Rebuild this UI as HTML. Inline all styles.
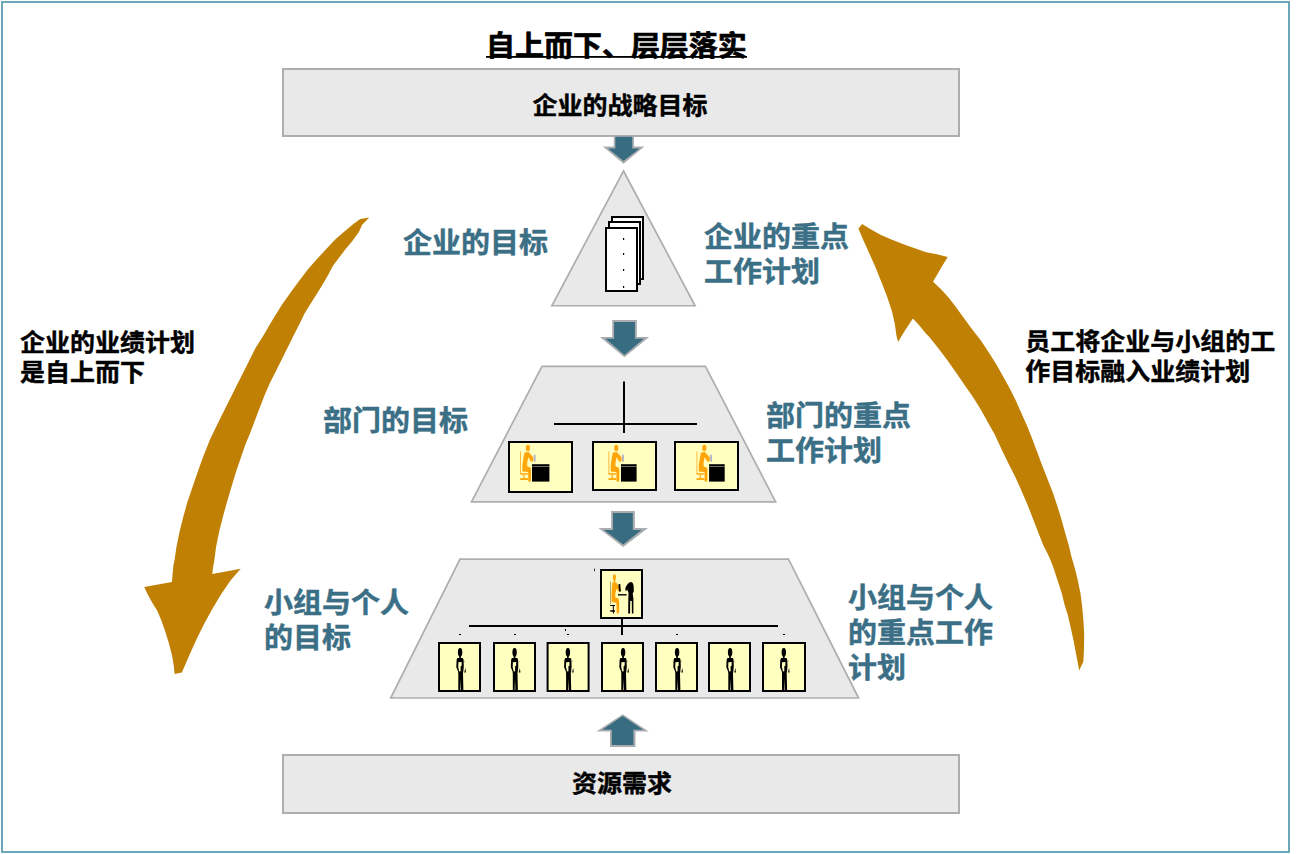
<!DOCTYPE html>
<html lang="zh-CN">
<head>
<meta charset="utf-8">
<title>自上而下、层层落实</title>
<style>
html,body{margin:0;padding:0;background:#fff;}
body{width:1302px;height:854px;overflow:hidden;font-family:"Liberation Sans","Noto Sans CJK SC",sans-serif;}
svg{display:block;}
text{font-family:"Liberation Sans","Noto Sans CJK SC",sans-serif;font-weight:bold;}
.blk{fill:#000;font-size:25px;stroke:#000;stroke-width:0.45px;stroke-linejoin:round;}
.blu{fill:#3b6f86;font-size:29px;stroke:#3b6f86;stroke-width:0.5px;stroke-linejoin:round;}
.ttl{fill:#000;font-size:29px;stroke:#000;stroke-width:0.7px;stroke-linejoin:round;}
.box{fill:#e9e9e9;stroke:#aeaeae;}
rect.box{stroke-width:2;}
.card{fill:#ffffc0;stroke:#000;stroke-width:2;}
.gold{fill:#c08003;}
.ln{stroke:#000;stroke-width:2;fill:none;}
</style>
</head>
<body>
<svg width="1302" height="854" viewBox="0 0 1302 854" role="img" aria-label="自上而下、层层落实">
<rect x="0" y="0" width="1302" height="854" fill="#fff"/>

<!-- frame -->
<rect x="2" y="2" width="1287" height="850" fill="none" stroke="#6ba6b9" stroke-width="2"/>

<!-- title -->
<g id="title">
<text class="ttl" transform="translate(486 56) scale(1 .97)">自上而下、层层落实</text>
<rect x="486" y="56" width="261" height="1.8" fill="#000"/>
</g>

<!-- top & bottom bars -->
<g id="bars">
<rect class="box" x="283" y="69" width="676" height="67"/>
<text class="blk" transform="translate(620 114) scale(1 .97)" text-anchor="middle">企业的战略目标</text>
<rect class="box" x="283" y="755" width="676" height="58"/>
<text class="blk" transform="translate(622 792) scale(1 .97)" text-anchor="middle">资源需求</text>
</g>

<!-- pyramid shapes -->
<g id="pyramid" stroke-width="1.7">
<polygon class="box" points="623.5,171 695.1,305.75 551.9,305.75"/>
<polygon class="box" points="542,366.3 705.4,366.3 775.6,501.8 471.5,501.8"/>
<polygon class="box" points="460,559.1 788.5,559.1 858.6,698 390.7,698"/>
</g>


<!-- level 1: document stack -->
<g id="docs" fill="#fff" stroke="#000" stroke-width="2">
<rect x="612" y="217" width="31" height="62"/>
<rect x="609" y="222" width="31" height="62"/>
<rect x="606" y="228" width="31" height="63"/>
<g fill="#000" stroke="none">
<rect x="623" y="238" width="1.2" height="2"/>
<rect x="623" y="253" width="1.2" height="2"/>
<rect x="623" y="269" width="1.2" height="2"/>
<rect x="623" y="286" width="1.2" height="2"/>
</g>
</g>

<!-- level 2: department org chart -->
<g id="dept">
<line class="ln" x1="624" y1="381.5" x2="624" y2="433"/>
<line class="ln" x1="554" y1="424" x2="697" y2="424"/>
<rect class="card" x="509" y="442" width="63" height="50"/>
<rect class="card" x="593" y="442" width="63" height="48"/>
<rect class="card" x="675" y="442" width="63" height="48"/>
<g class="ico-seat" transform="translate(508 441)">
  <!-- seated employee at a desk; origin = card top-left (65 x 52 card) -->
  <rect x="12.1" y="10.4" width="0.9" height="22.6" fill="#ffb22e"/>
  <rect x="12.2" y="32.2" width="7.9" height="1.4" fill="#ffa50a"/>
  <rect x="15.3" y="33.4" width="1.2" height="4" fill="#ffa50a"/>
  <rect x="12.2" y="37.2" width="7.9" height="1.8" fill="#ffa50a"/>
  <ellipse cx="19.9" cy="7" rx="2.1" ry="3.2" fill="#ffa50a"/>
  <path fill="#ffa50a" d="M16.6,11.6 L20.6,10.9 L25.4,16.4 L25.1,20.6 L22.9,20.4 L20.3,16.2 L19.2,21.5 L19.2,25.4 L22.3,26.5 L23.1,28.8 L22.9,40.6 L20.3,40.6 L20.1,31 L14.4,30.5 L14.4,24.3 L15.6,15.9 Z"/>
  <rect x="25.7" y="13.6" width="1.9" height="7.3" rx="0.8" fill="#b4b4c6"/>
</g><g class="ico-desk" transform="translate(508 441)">
  <rect x="24" y="23.2" width="17.4" height="17.4" fill="#000"/>
  <rect x="24" y="25.2" width="17.4" height="0.5" fill="#d8d8b0"/>
</g>
<g class="ico-seat" transform="translate(596.3 441)">
  <!-- seated employee at a desk; origin = card top-left (65 x 52 card) -->
  <rect x="12.1" y="10.4" width="0.9" height="22.6" fill="#ffb22e"/>
  <rect x="12.2" y="32.2" width="7.9" height="1.4" fill="#ffa50a"/>
  <rect x="15.3" y="33.4" width="1.2" height="4" fill="#ffa50a"/>
  <rect x="12.2" y="37.2" width="7.9" height="1.8" fill="#ffa50a"/>
  <ellipse cx="19.9" cy="7" rx="2.1" ry="3.2" fill="#ffa50a"/>
  <path fill="#ffa50a" d="M16.6,11.6 L20.6,10.9 L25.4,16.4 L25.1,20.6 L22.9,20.4 L20.3,16.2 L19.2,21.5 L19.2,25.4 L22.3,26.5 L23.1,28.8 L22.9,40.6 L20.3,40.6 L20.1,31 L14.4,30.5 L14.4,24.3 L15.6,15.9 Z"/>
  <rect x="25.7" y="13.6" width="1.9" height="7.3" rx="0.8" fill="#b4b4c6"/>
</g><g class="ico-desk2" transform="translate(596.3 441)">
  <rect x="24.7" y="23.2" width="15.6" height="17.4" fill="#000"/>
  <rect x="24.7" y="25.2" width="15.6" height="0.5" fill="#d8d8b0"/>
</g>
<g class="ico-seat" transform="translate(684.4 441)">
  <!-- seated employee at a desk; origin = card top-left (65 x 52 card) -->
  <rect x="12.1" y="10.4" width="0.9" height="22.6" fill="#ffb22e"/>
  <rect x="12.2" y="32.2" width="7.9" height="1.4" fill="#ffa50a"/>
  <rect x="15.3" y="33.4" width="1.2" height="4" fill="#ffa50a"/>
  <rect x="12.2" y="37.2" width="7.9" height="1.8" fill="#ffa50a"/>
  <ellipse cx="19.9" cy="7" rx="2.1" ry="3.2" fill="#ffa50a"/>
  <path fill="#ffa50a" d="M16.6,11.6 L20.6,10.9 L25.4,16.4 L25.1,20.6 L22.9,20.4 L20.3,16.2 L19.2,21.5 L19.2,25.4 L22.3,26.5 L23.1,28.8 L22.9,40.6 L20.3,40.6 L20.1,31 L14.4,30.5 L14.4,24.3 L15.6,15.9 Z"/>
  <rect x="25.7" y="13.6" width="1.9" height="7.3" rx="0.8" fill="#b4b4c6"/>
</g><g class="ico-desk2" transform="translate(684.4 441)">
  <rect x="24.7" y="23.2" width="15.6" height="17.4" fill="#000"/>
  <rect x="24.7" y="25.2" width="15.6" height="0.5" fill="#d8d8b0"/>
</g>
</g>

<!-- level 3: team org chart -->
<g id="team">
<line class="ln" x1="469" y1="626" x2="778" y2="626"/>
<line class="ln" x1="622" y1="619" x2="622" y2="635"/>
<rect class="card" x="601" y="570" width="41" height="48"/>
<g class="ico-lead" transform="translate(600 569)">
  <!-- team leader seated, talking to a standing colleague -->
  <rect x="10.1" y="12.5" width="0.6" height="22.6" fill="#7a6a30"/>
  <ellipse cx="14.4" cy="8.2" rx="1.5" ry="3" fill="#ffa50a"/>
  <rect x="13.6" y="10.6" width="1.8" height="3.6" fill="#ffa50a"/>
  <path fill="#ffa50a" d="M12.2,14.1 L16.6,13.8 L18.2,16.5 L21,20 L20.7,22.6 L18.6,22.4 L16.8,19.4 L15.4,24 L15.3,28.2 L18.4,29.6 L19.3,33.8 L19,44.3 L16.7,44.3 L16.4,34 L11.5,32.5 L11.5,25.2 Z"/>
  <path fill="#000" d="M10.2,35.9 H15 V37 H13.8 V41.2 H15 V42.8 H13.9 V44.4 H12.9 V42.8 H10.2 V41.2 H12.8 V37 H10.2 Z"/>
  <path fill="#000" d="M18.4,15.3 L20.2,15.1 L20.9,22.4 L19,22.6 Z"/>
  <rect x="18" y="25.1" width="8.6" height="1.4" fill="#000"/>
  <path fill="#000" d="M30.6,13 C32.6,12.6 33.6,15 33.7,18 L33.8,22.6 L32.7,24.6 L33.4,29.5 L33.4,44.6 L31.9,44.6 L31.8,32 L30.2,32 L30.1,44.6 L28.2,44.6 L28.3,30.5 L28.5,23.5 L27.2,20.4 L25.9,22.4 L25.2,19.6 C26.4,16.2 28.2,13.6 30.6,13 Z"/>
</g>
<rect class="card" x="439" y="643" width="41" height="48"/>
<rect class="card" x="494" y="643" width="41" height="48"/>
<rect class="card" x="547.6" y="643" width="41" height="48"/>
<rect class="card" x="602" y="643" width="41" height="48"/>
<rect class="card" x="656" y="643" width="41" height="48"/>
<rect class="card" x="709" y="643" width="41" height="48"/>
<rect class="card" x="763" y="643" width="42" height="48"/>
<g class="ico-stand" transform="translate(438 642)">
  <!-- standing employee holding a sheet -->
  <ellipse cx="22.1" cy="10.3" rx="2.2" ry="4.4" fill="#000"/>
  <rect x="21.2" y="14" width="1.7" height="2.6" fill="#000"/>
  <path fill="#000" d="M19.4,16.1 L24.9,16.1 L25.6,18 L25.8,24.6 L25.3,29.6 L25,31 L25.4,48.5 L22.9,48.5 L22.5,37 L22.2,48.5 L20.3,48.5 L20.3,31 L19.9,29 L18.3,25.2 L18.6,18 Z"/>
  <path fill="#ffffc0" d="M20.4,20.3 L23.7,20.1 L23.6,23.8 L22.6,24.2 L22.6,29.3 L21.2,29.6 L20.2,25 Z"/>
  <path fill="#000" d="M27.4,25.8 L27.9,30.4 L26.3,30.5 Z"/>
  <rect x="26.4" y="19.2" width="0.6" height="0.6" fill="#333"/>
</g>
<g class="ico-stand" transform="translate(492.5 642)">
  <!-- standing employee holding a sheet -->
  <ellipse cx="22.1" cy="10.3" rx="2.2" ry="4.4" fill="#000"/>
  <rect x="21.2" y="14" width="1.7" height="2.6" fill="#000"/>
  <path fill="#000" d="M19.4,16.1 L24.9,16.1 L25.6,18 L25.8,24.6 L25.3,29.6 L25,31 L25.4,48.5 L22.9,48.5 L22.5,37 L22.2,48.5 L20.3,48.5 L20.3,31 L19.9,29 L18.3,25.2 L18.6,18 Z"/>
  <path fill="#ffffc0" d="M20.4,20.3 L23.7,20.1 L23.6,23.8 L22.6,24.2 L22.6,29.3 L21.2,29.6 L20.2,25 Z"/>
  <path fill="#000" d="M27.4,25.8 L27.9,30.4 L26.3,30.5 Z"/>
  <rect x="26.4" y="19.2" width="0.6" height="0.6" fill="#333"/>
</g>
<g class="ico-stand" transform="translate(545.8 642)">
  <!-- standing employee holding a sheet -->
  <ellipse cx="22.1" cy="10.3" rx="2.2" ry="4.4" fill="#000"/>
  <rect x="21.2" y="14" width="1.7" height="2.6" fill="#000"/>
  <path fill="#000" d="M19.4,16.1 L24.9,16.1 L25.6,18 L25.8,24.6 L25.3,29.6 L25,31 L25.4,48.5 L22.9,48.5 L22.5,37 L22.2,48.5 L20.3,48.5 L20.3,31 L19.9,29 L18.3,25.2 L18.6,18 Z"/>
  <path fill="#ffffc0" d="M20.4,20.3 L23.7,20.1 L23.6,23.8 L22.6,24.2 L22.6,29.3 L21.2,29.6 L20.2,25 Z"/>
  <path fill="#000" d="M27.4,25.8 L27.9,30.4 L26.3,30.5 Z"/>
  <rect x="26.4" y="19.2" width="0.6" height="0.6" fill="#333"/>
</g>
<g class="ico-stand" transform="translate(601 642)">
  <!-- standing employee holding a sheet -->
  <ellipse cx="22.1" cy="10.3" rx="2.2" ry="4.4" fill="#000"/>
  <rect x="21.2" y="14" width="1.7" height="2.6" fill="#000"/>
  <path fill="#000" d="M19.4,16.1 L24.9,16.1 L25.6,18 L25.8,24.6 L25.3,29.6 L25,31 L25.4,48.5 L22.9,48.5 L22.5,37 L22.2,48.5 L20.3,48.5 L20.3,31 L19.9,29 L18.3,25.2 L18.6,18 Z"/>
  <path fill="#ffffc0" d="M20.4,20.3 L23.7,20.1 L23.6,23.8 L22.6,24.2 L22.6,29.3 L21.2,29.6 L20.2,25 Z"/>
  <path fill="#000" d="M27.4,25.8 L27.9,30.4 L26.3,30.5 Z"/>
  <rect x="26.4" y="19.2" width="0.6" height="0.6" fill="#333"/>
</g>
<g class="ico-stand" transform="translate(655 642)">
  <!-- standing employee holding a sheet -->
  <ellipse cx="22.1" cy="10.3" rx="2.2" ry="4.4" fill="#000"/>
  <rect x="21.2" y="14" width="1.7" height="2.6" fill="#000"/>
  <path fill="#000" d="M19.4,16.1 L24.9,16.1 L25.6,18 L25.8,24.6 L25.3,29.6 L25,31 L25.4,48.5 L22.9,48.5 L22.5,37 L22.2,48.5 L20.3,48.5 L20.3,31 L19.9,29 L18.3,25.2 L18.6,18 Z"/>
  <path fill="#ffffc0" d="M20.4,20.3 L23.7,20.1 L23.6,23.8 L22.6,24.2 L22.6,29.3 L21.2,29.6 L20.2,25 Z"/>
  <path fill="#000" d="M27.4,25.8 L27.9,30.4 L26.3,30.5 Z"/>
  <rect x="26.4" y="19.2" width="0.6" height="0.6" fill="#333"/>
</g>
<g class="ico-stand" transform="translate(708 642)">
  <!-- standing employee holding a sheet -->
  <ellipse cx="22.1" cy="10.3" rx="2.2" ry="4.4" fill="#000"/>
  <rect x="21.2" y="14" width="1.7" height="2.6" fill="#000"/>
  <path fill="#000" d="M19.4,16.1 L24.9,16.1 L25.6,18 L25.8,24.6 L25.3,29.6 L25,31 L25.4,48.5 L22.9,48.5 L22.5,37 L22.2,48.5 L20.3,48.5 L20.3,31 L19.9,29 L18.3,25.2 L18.6,18 Z"/>
  <path fill="#ffffc0" d="M20.4,20.3 L23.7,20.1 L23.6,23.8 L22.6,24.2 L22.6,29.3 L21.2,29.6 L20.2,25 Z"/>
  <path fill="#000" d="M27.4,25.8 L27.9,30.4 L26.3,30.5 Z"/>
  <rect x="26.4" y="19.2" width="0.6" height="0.6" fill="#333"/>
</g>
<g class="ico-stand" transform="translate(761.7 642)">
  <!-- standing employee holding a sheet -->
  <ellipse cx="22.1" cy="10.3" rx="2.2" ry="4.4" fill="#000"/>
  <rect x="21.2" y="14" width="1.7" height="2.6" fill="#000"/>
  <path fill="#000" d="M19.4,16.1 L24.9,16.1 L25.6,18 L25.8,24.6 L25.3,29.6 L25,31 L25.4,48.5 L22.9,48.5 L22.5,37 L22.2,48.5 L20.3,48.5 L20.3,31 L19.9,29 L18.3,25.2 L18.6,18 Z"/>
  <path fill="#ffffc0" d="M20.4,20.3 L23.7,20.1 L23.6,23.8 L22.6,24.2 L22.6,29.3 L21.2,29.6 L20.2,25 Z"/>
  <path fill="#000" d="M27.4,25.8 L27.9,30.4 L26.3,30.5 Z"/>
  <rect x="26.4" y="19.2" width="0.6" height="0.6" fill="#333"/>
</g>
<g fill="#000">
<rect x="459" y="634" width="2" height="1"/>
<rect x="514" y="634" width="2" height="1"/>
<rect x="565" y="629" width="1" height="2"/>
<rect x="567" y="634" width="2" height="1"/>
<rect x="594" y="568.6" width="1" height="2.6" fill="#333"/>
<rect x="676" y="634" width="2" height="1"/>
<rect x="783" y="634" width="2" height="1"/>
</g>
</g>

<!-- small arrows -->
<g id="arrows">
<g fill="#a9adaf">
<polygon points="613.8,136.8 634,136.8 634,146.4 644.4,146.4 623.5,163.8 602.9,146.4 613.8,146.4"/>
<polygon points="612.2,320 636.9,320 636.9,337 649.2,337 624.4,357.3 600,337 612.2,337"/>
<polygon points="611.1,511.1 634.9,511.1 634.9,528.1 648,528.1 623.2,547 598.4,528.1 611.1,528.1"/>
<polygon points="622.7,714.2 648.7,731.5 635.5,731.5 635.5,746.9 610,746.9 610,731.5 596.4,731.5"/>
</g>
<g fill="#386c80">
<polygon points="615.4,136.8 632.2,136.8 632.2,148.4 639.6,148.4 623.5,160.9 608,148.4 615.4,148.4"/>
<polygon points="614.1,321.9 634.9,321.9 634.9,338.7 643.8,338.7 624.4,355 605.5,338.7 614.1,338.7"/>
<polygon points="613,512.9 632.8,512.9 632.8,529.9 641.5,529.9 623.2,544.4 603.8,529.9 613,529.9"/>
<polygon points="622.7,716.1 643.2,729.7 633.4,729.7 633.4,745.1 611.8,745.1 611.8,729.7 602.2,729.7"/>
</g>
</g>

<!-- big curved arrows -->
<g id="curves">
<path class="gold" d="M369.2,217.5 L360.2,219 L352.4,224.8 L344.7,231.3 L335.7,239 L326.7,248.6 L317.7,258.3 L308.6,268.6 L299.6,280.2 L290.6,292.4 L281.6,305.3 L273.5,318.2 L263.1,335.9 L255.5,348.1 L249.4,360.2 L242.5,373.9 L235.7,387.6 L229.6,399.8 L222.7,413.5 L215.9,427.2 L209.8,440 L202.3,458.9 L197,474.1 L191.7,489.4 L187.1,503.1 L183.3,516.8 L179.5,532 L176.4,547.2 L174.6,560 L173.4,565.2 L171.9,582 L144.2,587 L147.5,594.1 L152.1,602.5 L157.4,610.9 L161.2,620 L165,630.7 L168.8,642.9 L171.9,655 L173.8,665.7 L174.6,674.1 L181.8,672.5 L184.8,665.7 L190.1,653.5 L197,638.3 L204.6,623.1 L213,607.8 L221.3,594.1 L230.5,580.4 L240.7,568.7 L212.2,574.1 L213.4,565.2 L214.4,560 L216,547.2 L219.1,532 L222.9,516.8 L226.7,503.1 L231.2,487.8 L235.8,472.6 L240.4,458.9 L245.7,443.7 L250.1,433.3 L254.7,421.1 L259.3,409 L264.6,395.3 L269.9,383.1 L276,370.9 L282.1,358.7 L288.9,345 L295,332.8 L301.1,320.7 L304.8,313 L311.2,302.7 L317.7,292.4 L324.1,282.1 L329.2,273.1 L333.1,265.4 L339.6,257 L346,248.6 L352.4,240.9 L358.9,231.9 L362.1,224.8 L366,220.9 Z"/>
<path class="gold" d="M858.4,228.4 L862.2,224.1 L869.8,228.7 L880.4,234.8 L892.6,240.1 L904.8,244.7 L915.5,248.5 L926.1,252.3 L936.8,254.3 L947.7,256.9 L941.3,267.5 L933,281.7 L941.3,289.6 L949,298 L956.6,307.9 L964.2,318.5 L972.3,329.5 L980.9,340.6 L988.5,352 L996.1,364.1 L1003,376.3 L1009.8,388.5 L1015.9,400.7 L1022,414.4 L1027.3,426.6 L1032.2,438.7 L1036.8,451 L1042.4,465.9 L1047.7,479.6 L1053.1,493.3 L1057.6,507 L1061.4,519.2 L1065.2,532.9 L1069.1,546.6 L1071.5,557 L1074.6,567.2 L1077.6,579.4 L1080.4,593.1 L1082.2,606.8 L1083.4,620.5 L1084.2,634.2 L1084,647.9 L1083.4,661.6 L1079.2,670.4 L1078.1,664.6 L1076.1,654 L1073.8,641.8 L1070.8,628.1 L1067.7,614.4 L1064.7,605.2 L1061.7,593.1 L1057.8,580.9 L1053.3,567.2 L1049,556.5 L1043.2,545 L1037.8,531.3 L1032.5,517.6 L1027.2,503.9 L1021.9,491.8 L1015.8,478.1 L1009.7,465.9 L1002.6,451.5 L994.6,434.2 L987.7,422 L980.9,409.8 L973.3,397.6 L964.9,385.5 L956.5,373.3 L947.4,360.3 L938.3,348.2 L929.1,336.7 L926.1,333.7 L918.5,324.6 L912.9,318.5 L904.8,330.7 L898,342.1 L896.4,335.3 L894.9,324.6 L891.9,310.9 L887.3,297.2 L882,283.5 L875.9,268.3 L869.8,254.6 L863.7,240.9 Z"/>
</g>

<!-- labels -->
<g id="labels">
<text class="blk" transform="translate(20 351) scale(1 .97)">企业的业绩计划</text>
<text class="blk" transform="translate(20 381) scale(1 .97)">是自上而下</text>
<text class="blk" transform="translate(1025.3 350) scale(1 .97)">员工将企业与小组的工</text>
<text class="blk" transform="translate(1025.3 380) scale(1 .97)">作目标融入业绩计划</text>
<text class="blu" transform="translate(403 252.6) scale(1 .97)">企业的目标</text>
<text class="blu" transform="translate(704 247) scale(1 .97)">企业的重点</text>
<text class="blu" transform="translate(704 282) scale(1 .97)">工作计划</text>
<text class="blu" transform="translate(323 431.3) scale(1 .97)">部门的目标</text>
<text class="blu" transform="translate(766 426) scale(1 .97)">部门的重点</text>
<text class="blu" transform="translate(766 461) scale(1 .97)">工作计划</text>
<text class="blu" transform="translate(264 613) scale(1 .97)">小组与个人</text>
<text class="blu" transform="translate(264 648) scale(1 .97)">的目标</text>
<text class="blu" transform="translate(848 608) scale(1 .97)">小组与个人</text>
<text class="blu" transform="translate(848 643.2) scale(1 .97)">的重点工作</text>
<text class="blu" transform="translate(848 678) scale(1 .97)">计划</text>
</g>
</svg>
</body>
</html>
